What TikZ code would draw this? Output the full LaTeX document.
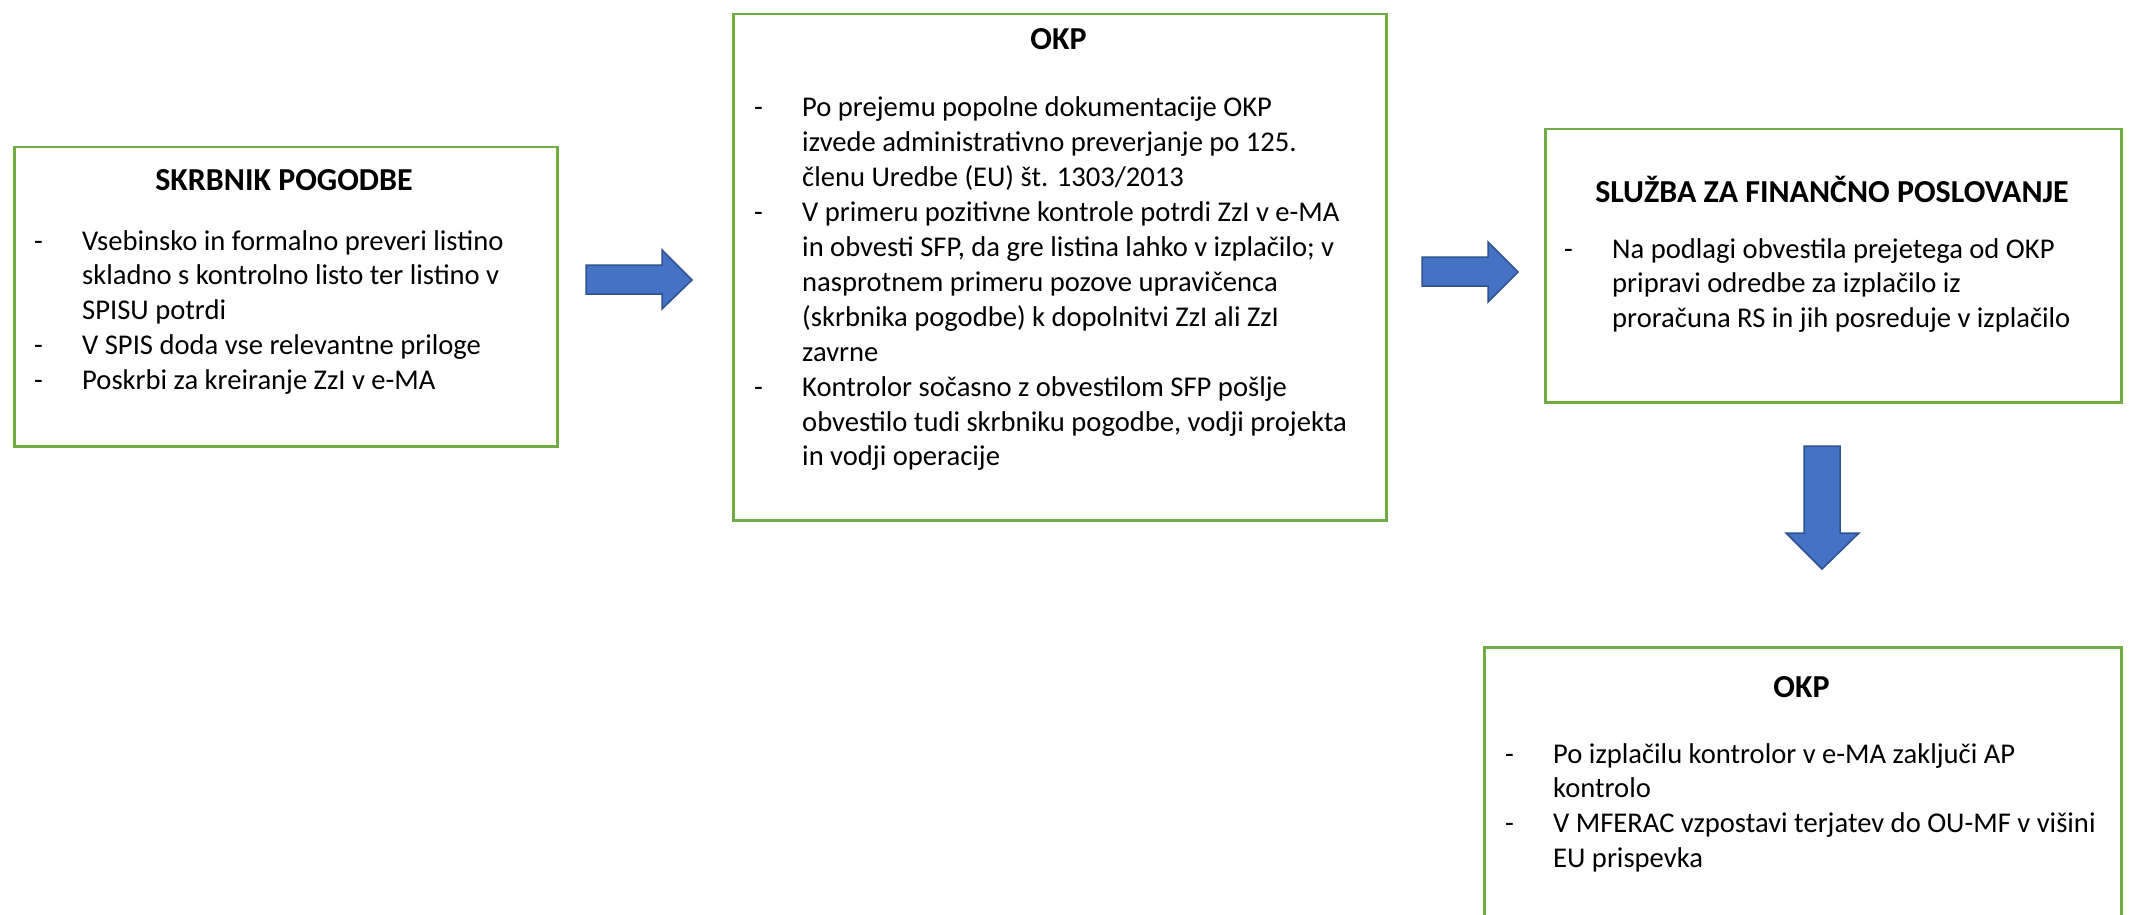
\documentclass[tikz,border=0pt]{standalone}
\usepackage{fontspec}
\setmainfont{Carlito}
\definecolor{boxgreen}{HTML}{70AD47}
\definecolor{arrfill}{HTML}{4472C4}
\definecolor{arrline}{HTML}{2F528F}
\newlength{\dashw}\setlength{\dashw}{48pt}
\newcommand{\bitem}[1]{\noindent\hangindent=\dashw\hangafter=1\makebox[\dashw][l]{-}#1\par}
\tikzset{
  box/.style={draw=boxgreen, line width=2.5pt, fill=white, rectangle, inner sep=0pt, anchor=north west},
  ttl/.style={font=\bfseries\fontsize{32pt}{38pt}\selectfont, anchor=base, inner sep=0pt},
  lst/.style={font=\fontsize{28.6pt}{34.9pt}\selectfont, anchor=base west, inner sep=0pt},
  blockarrow/.style={fill=arrfill, draw=arrline, line width=1.5pt, line join=miter}
}
\begin{document}
\begin{tikzpicture}[x=1pt,y=-1pt]
\useasboundingbox (0,0) rectangle (2134,915);
\fill[white] (0,0) rectangle (2134,915);

% Box 1
\node[box, minimum width=543pt, minimum height=299pt] (b1) at (13,146) {};
\node[ttl] (h1) at (284,190) {SKRBNIK POGODBE};
\node[lst] (l1) at (34,250) {\parbox[t]{515pt}{\raggedright\setlength{\parskip}{0pt}%
\bitem{Vsebinsko in formalno preveri listino\newline skladno s kontrolno listo ter listino v\newline SPISU potrdi}%
\bitem{V SPIS doda vse relevantne priloge}%
\bitem{Poskrbi za kreiranje ZzI v e-MA}}};

% Box 2
\node[box, minimum width=653pt, minimum height=506pt] (b2) at (732,13) {};
\node[ttl] (h2) at (1058.5,50) {OKP};
\node[lst] (l2) at (754,117) {\parbox[t]{625pt}{\raggedright\setlength{\parskip}{0pt}%
\bitem{Po prejemu popolne dokumentacije OKP\newline izvede administrativno preverjanje po 125.\newline členu Uredbe (EU) št. 1303/2013}%
\bitem{V primeru pozitivne kontrole potrdi ZzI v e-MA\newline in obvesti SFP, da gre listina lahko v izplačilo; v\newline nasprotnem primeru pozove upravičenca\newline (skrbnika pogodbe) k dopolnitvi ZzI ali ZzI\newline zavrne}%
\bitem{Kontrolor sočasno z obvestilom SFP pošlje\newline obvestilo tudi skrbniku pogodbe, vodji projekta\newline in vodji operacije}}};

% Box 3
\node[box, minimum width=576pt, minimum height=273pt] (b3) at (1544,128) {};
\node[ttl] (h3) at (1832,202) {SLUŽBA ZA FINANČNO POSLOVANJE};
\node[lst] (l3) at (1564,258) {\parbox[t]{550pt}{\raggedright\setlength{\parskip}{0pt}%
\bitem{Na podlagi obvestila prejetega od OKP\newline pripravi odredbe za izplačilo iz\newline proračuna RS in jih posreduje v izplačilo}}};

% Box 4 (runs past the lower edge)
\begin{scope}
\clip (0,0) rectangle (2134,915);
\node[box, minimum width=637pt, minimum height=320pt] (b4) at (1483,646) {};
\end{scope}
\node[ttl] (h4) at (1801.5,697) {OKP};
\node[lst] (l4) at (1505,763) {\parbox[t]{610pt}{\raggedright\setlength{\parskip}{0pt}%
\bitem{Po izplačilu kontrolor v e-MA zaključi AP\newline kontrolo}%
\bitem{V MFERAC vzpostavi terjatev do OU-MF v višini\newline EU prispevka}}};

% Block arrows
\draw[blockarrow] (586,265) -- (662,265) -- (662,250) -- (692,280) -- (662,309) -- (662,294) -- (586,294) -- cycle;
\draw[blockarrow] (1422,257) -- (1488,257) -- (1488,242) -- (1518,272) -- (1488,302) -- (1488,286) -- (1422,286) -- cycle;
\draw[blockarrow] (1804,446) -- (1840,446) -- (1840,533) -- (1859,533) -- (1822,569) -- (1786,533) -- (1804,533) -- cycle;
\end{tikzpicture}
\end{document}
